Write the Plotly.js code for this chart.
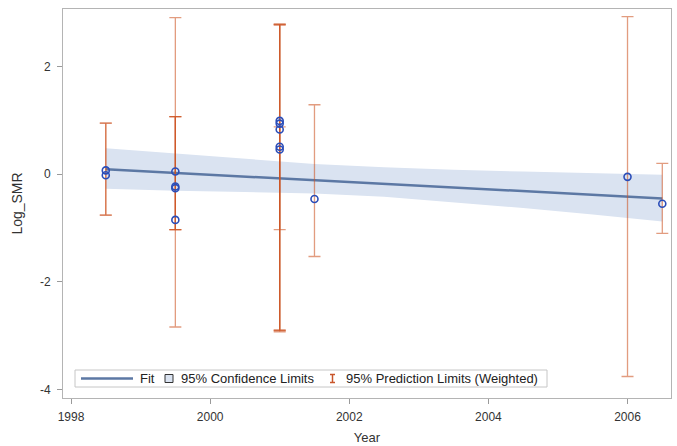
<!DOCTYPE html>
<html>
<head>
<meta charset="utf-8">
<script src="https://cdn.plot.ly/plotly-3.0.1.min.js"></script>
<style>html,body{margin:0;padding:0;background:#fff;}#chart{width:677px;height:446px;}</style>
</head>
<body>
<div id="chart"></div>
<script>
// Observations
const obsYear   = [1998.5, 1998.5, 1999.5, 1999.5, 1999.5, 1999.5, 2001, 2001, 2001, 2001, 2001, 2001.5, 2006, 2006.5];
const logSMR    = [0.07, -0.02, 0.05, -0.23, -0.26, -0.85, 0.99, 0.94, 0.83, 0.51, 0.46, -0.46, -0.05, -0.55];
// 95% prediction limits (weighted), one per observation
const predLower = [-0.76, -0.76, -1.03, -1.03, -1.03, -2.84, -2.90, -2.93, -2.91, -1.03, -2.90, -1.53, -3.76, -1.10];
const predUpper = [0.95, 0.95, 1.07, 1.07, 1.07, 2.91, 2.79, 2.77, 2.78, 0.88, 2.79, 1.29, 2.93, 0.20];
// Fit line
const fitYear  = [1998.5, 2006.5];
const fitValue = [0.09, -0.45];
// 95% confidence band
const bandYear  = [1998.5, 1999.5, 2000.5, 2001.5, 2002.5, 2003.5, 2004.5, 2005.5, 2006.5];
const bandUpper = [0.48, 0.38, 0.28, 0.19, 0.13, 0.08, 0.05, 0.02, -0.01];
const bandLower = [-0.27, -0.31, -0.33, -0.36, -0.42, -0.52, -0.63, -0.75, -0.88];
// Axis ticks
const xTicks = [1998, 2000, 2002, 2004, 2006];
const yTicks = [-4, -2, 0, 2];

const FONT = 'Liberation Sans, Arial, sans-serif';
const fitColor = '#5C78A4';
const bandColor = '#DAE3F1';
const predColor = '#C8552A';
const markerColor = '#2B4DB8';

const traces = [
  {x: bandYear, y: bandLower, mode: 'lines', line: {width: 0, color: bandColor}, showlegend: false, hoverinfo: 'skip'},
  {x: bandYear, y: bandUpper, mode: 'lines', line: {width: 0, color: bandColor}, fill: 'tonexty', fillcolor: bandColor, showlegend: false, hoverinfo: 'skip'},
  {x: fitYear, y: fitValue, mode: 'lines', line: {color: fitColor, width: 2.5}, showlegend: false},
  {
    x: obsYear, y: logSMR, mode: 'markers', showlegend: false,
    marker: {symbol: 'circle-open', size: 7, color: markerColor, line: {width: 1.6, color: markerColor}},
    error_y: {
      type: 'data', symmetric: false,
      array: predUpper.map((u, i) => u - logSMR[i]),
      arrayminus: predLower.map((l, i) => logSMR[i] - l),
      color: 'rgba(205,85,35,0.58)', thickness: 1.3, width: 6
    }
  }
];

// plot area in pixels: left 63, right 671, top 9, bottom 398
const L = 63, R = 671, T = 9, B = 398;
const px = v => (v - L) / (R - L);
const py = v => (B - v) / (B - T);

const legY = py(378.5);
const shapes = [
  {type: 'rect', xref: 'paper', yref: 'paper', x0: px(75), x1: px(547), y0: py(387), y1: py(370), line: {color: '#C6C6C6', width: 1}, fillcolor: '#FFFFFF'},
  {type: 'line', xref: 'paper', yref: 'paper', x0: px(81), x1: px(133), y0: legY, y1: legY, line: {color: fitColor, width: 2.5}},
  {type: 'rect', xref: 'paper', yref: 'paper', x0: px(165), x1: px(173), y0: py(382.5), y1: py(374.5), line: {color: '#333333', width: 1}, fillcolor: bandColor},
  {type: 'line', xref: 'paper', yref: 'paper', x0: px(332.5), x1: px(332.5), y0: py(382.5), y1: py(374.5), line: {color: predColor, width: 1.5}},
  {type: 'line', xref: 'paper', yref: 'paper', x0: px(330), x1: px(335), y0: py(382.5), y1: py(382.5), line: {color: predColor, width: 1.5}},
  {type: 'line', xref: 'paper', yref: 'paper', x0: px(330), x1: px(335), y0: py(374.5), y1: py(374.5), line: {color: predColor, width: 1.5}}
];
const legFont = {family: FONT, size: 13, color: '#222222'};
const annotations = [
  {xref: 'paper', yref: 'paper', x: px(138), y: legY, xanchor: 'left', yanchor: 'middle', text: 'Fit', showarrow: false, font: legFont},
  {xref: 'paper', yref: 'paper', x: px(179), y: legY, xanchor: 'left', yanchor: 'middle', text: '95% Confidence Limits', showarrow: false, font: legFont},
  {xref: 'paper', yref: 'paper', x: px(344), y: legY, xanchor: 'left', yanchor: 'middle', text: '95% Prediction Limits (Weighted)', showarrow: false, font: legFont}
];

const layout = {
  width: 677, height: 446,
  margin: {l: L, r: 677 - R, t: T, b: 446 - B},
  paper_bgcolor: '#FFFFFF', plot_bgcolor: '#FFFFFF',
  showlegend: false,
  font: {family: FONT, size: 12, color: '#333333'},
  xaxis: {
    range: [1997.885, 2006.625], tickvals: xTicks, ticktext: xTicks.map(String),
    ticks: 'outside', ticklen: 5, tickcolor: '#9A9A9A', showgrid: false, zeroline: false,
    showline: true, mirror: true, linecolor: '#B4B4B4', linewidth: 1,
    ticklabelstandoff: 3,
    tickfont: {family: FONT, size: 12, color: '#333333'},
    title: {text: 'Year', font: {family: FONT, size: 13, color: '#333333'}, standoff: 9}
  },
  yaxis: {
    range: [-4.16, 3.07], tickvals: yTicks, ticktext: yTicks.map(String),
    ticks: 'outside', ticklen: 5, tickcolor: '#9A9A9A', showgrid: false, zeroline: false,
    showline: true, mirror: true, linecolor: '#B4B4B4', linewidth: 1,
    ticklabelstandoff: 4,
    tickfont: {family: FONT, size: 12, color: '#333333'},
    title: {text: 'Log_SMR', font: {family: FONT, size: 14, color: '#333333'}, standoff: 14}
  },
  shapes: shapes,
  annotations: annotations
};

Plotly.newPlot('chart', traces, layout, {displayModeBar: false, staticPlot: true});
</script>
</body>
</html>
